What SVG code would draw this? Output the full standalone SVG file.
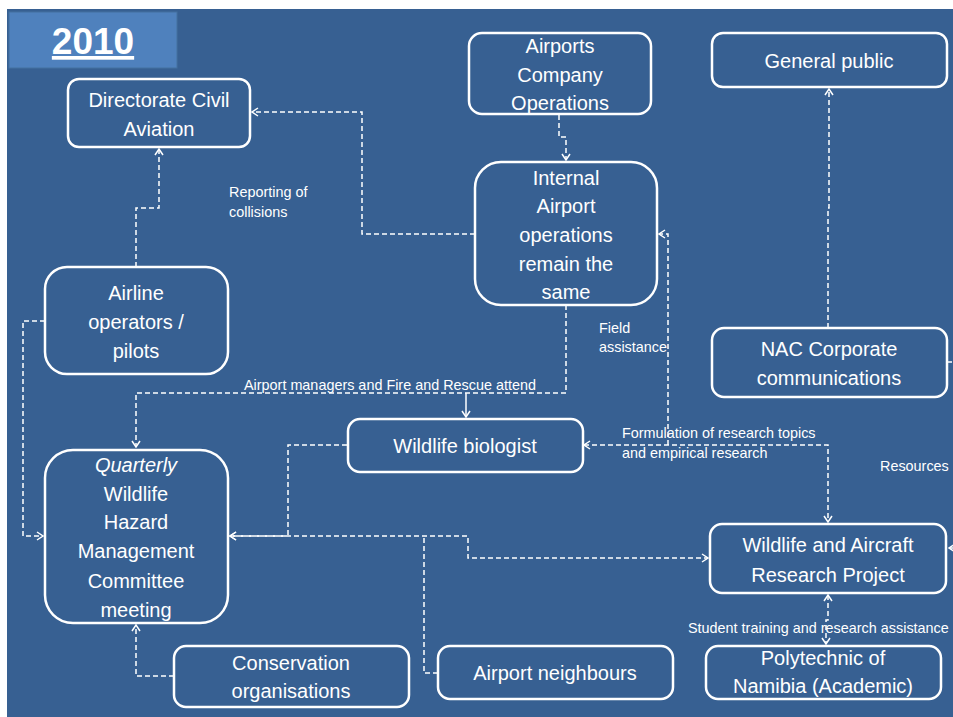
<svg xmlns="http://www.w3.org/2000/svg" width="953" height="717" viewBox="0 0 953 717">
<style>
.node rect{fill:#376092;stroke:#ffffff;stroke-width:2.5}
.nt{font-family:"Liberation Sans",Arial,sans-serif;font-size:20px;fill:#ffffff;text-anchor:middle}
.lbl{font-family:"Liberation Sans",Arial,sans-serif;font-size:14.4px;fill:#ffffff}
.conn path{fill:none;stroke:#ffffff;stroke-width:1.5;stroke-dasharray:5 3}
.conn path.solid{stroke-dasharray:none}
</style>
<defs>
<marker id="ah" viewBox="-8 -5 9 10" markerWidth="9" markerHeight="10" refX="0" refY="0" orient="auto-start-reverse" markerUnits="userSpaceOnUse">
<path d="M-6,-4 L0,0 L-6,4" fill="none" stroke="#ffffff" stroke-width="1.5"/>
</marker>
</defs>
<rect x="0" y="0" width="953" height="717" fill="#ffffff"/>
<rect x="7" y="9" width="946" height="708" fill="#376092"/>
<g id="title">
<rect x="9" y="12" width="168" height="56" fill="#4f81bd" stroke="#44709f" stroke-width="1"/>
<text x="93" y="54" font-family="'Liberation Sans',Arial,sans-serif" font-size="37" font-weight="bold" fill="#ffffff" text-anchor="middle" text-decoration="underline">2010</text>
</g>
<g id="connectors" class="conn">
<path d="M475,234 H362 V112 H252" marker-end="url(#ah)"/>
<path d="M136,267 V208 H159 V149" marker-end="url(#ah)"/>
<path d="M559,115 V137 H566 V160" marker-end="url(#ah)"/>
<path d="M828,328 V208 H829 V89" marker-end="url(#ah)"/>
<path d="M566,305 V393 H136 V447" marker-end="url(#ah)"/>
<path class="solid" d="M466,393 V417" marker-end="url(#ah)"/>
<path d="M668,445 V234 H659" marker-end="url(#ah)"/>
<path d="M584,445 H828 V522" marker-start="url(#ah)" marker-end="url(#ah)"/>
<path d="M947,362 H962 V548 H949" marker-end="url(#ah)"/>
<path d="M45,321 H23 V536 H43" marker-end="url(#ah)"/>
<path d="M347,445 H288 V536 H230" marker-end="url(#ah)"/>
<path d="M438,673 H424 V536"/>
<path d="M230,536 H468 V558 H708" marker-start="url(#ah)" marker-end="url(#ah)"/>
<path d="M174,676 H136 V625" marker-end="url(#ah)"/>
<path d="M828,595 V620 H826 V644" marker-start="url(#ah)" marker-end="url(#ah)"/>
</g>
<g id="labels">
<text class="lbl" x="229" y="197">Reporting of</text>
<text class="lbl" x="229" y="217">collisions</text>
<text class="lbl" x="244" y="390">Airport managers and Fire and Rescue attend</text>
<text class="lbl" x="599" y="333">Field</text>
<text class="lbl" x="599" y="352">assistance</text>
<text class="lbl" x="622" y="438">Formulation of research topics</text>
<text class="lbl" x="622" y="458">and empirical research</text>
<text class="lbl" x="880" y="471">Resources</text>
<text class="lbl" x="688" y="633">Student training and research assistance</text>
</g>
<g id="dca" class="node">
<rect x="68" y="79" width="182" height="68" rx="11"/>
<text class="nt" x="159" y="107">Directorate Civil</text>
<text class="nt" x="159" y="136">Aviation</text>
</g>
<g id="aco" class="node">
<rect x="469" y="33" width="182" height="81" rx="13"/>
<text class="nt" x="560" y="53">Airports</text>
<text class="nt" x="560" y="82">Company</text>
<text class="nt" x="560" y="110">Operations</text>
</g>
<g id="gp" class="node">
<rect x="712" y="33" width="235" height="54" rx="11"/>
<text class="nt" x="829" y="68">General public</text>
</g>
<g id="iao" class="node">
<rect x="475" y="162" width="182" height="143" rx="26"/>
<text class="nt" x="566" y="185">Internal</text>
<text class="nt" x="566" y="213">Airport</text>
<text class="nt" x="566" y="242">operations</text>
<text class="nt" x="566" y="271">remain the</text>
<text class="nt" x="566" y="299">same</text>
</g>
<g id="airline" class="node">
<rect x="45" y="267" width="183" height="107" rx="22"/>
<text class="nt" x="136" y="300">Airline</text>
<text class="nt" x="136" y="329">operators /</text>
<text class="nt" x="136" y="358">pilots</text>
</g>
<g id="nac" class="node">
<rect x="712" y="328" width="235" height="69" rx="12"/>
<text class="nt" x="829" y="356">NAC Corporate</text>
<text class="nt" x="829" y="385">communications</text>
</g>
<g id="biologist" class="node">
<rect x="348" y="419" width="235" height="53" rx="12"/>
<text class="nt" x="465" y="453">Wildlife biologist</text>
</g>
<g id="whmc" class="node">
<rect x="45" y="450" width="183" height="173" rx="28"/>
<text class="nt" x="136" y="472" font-style="italic">Quarterly</text>
<text class="nt" x="136" y="501">Wildlife</text>
<text class="nt" x="136" y="529">Hazard</text>
<text class="nt" x="136" y="558">Management</text>
<text class="nt" x="136" y="588">Committee</text>
<text class="nt" x="136" y="617">meeting</text>
</g>
<g id="warp" class="node">
<rect x="710" y="524" width="236" height="69" rx="12"/>
<text class="nt" x="828" y="552">Wildlife and Aircraft</text>
<text class="nt" x="828" y="582">Research Project</text>
</g>
<g id="conservation" class="node">
<rect x="174" y="646" width="235" height="61" rx="12"/>
<text class="nt" x="291" y="670">Conservation</text>
<text class="nt" x="291" y="698">organisations</text>
</g>
<g id="neighbours" class="node">
<rect x="438" y="646" width="235" height="53" rx="12"/>
<text class="nt" x="555" y="680">Airport neighbours</text>
</g>
<g id="polytechnic" class="node">
<rect x="706" y="646" width="235" height="53" rx="12"/>
<text class="nt" x="823" y="665">Polytechnic of</text>
<text class="nt" x="823" y="693">Namibia (Academic)</text>
</g>
</svg>
